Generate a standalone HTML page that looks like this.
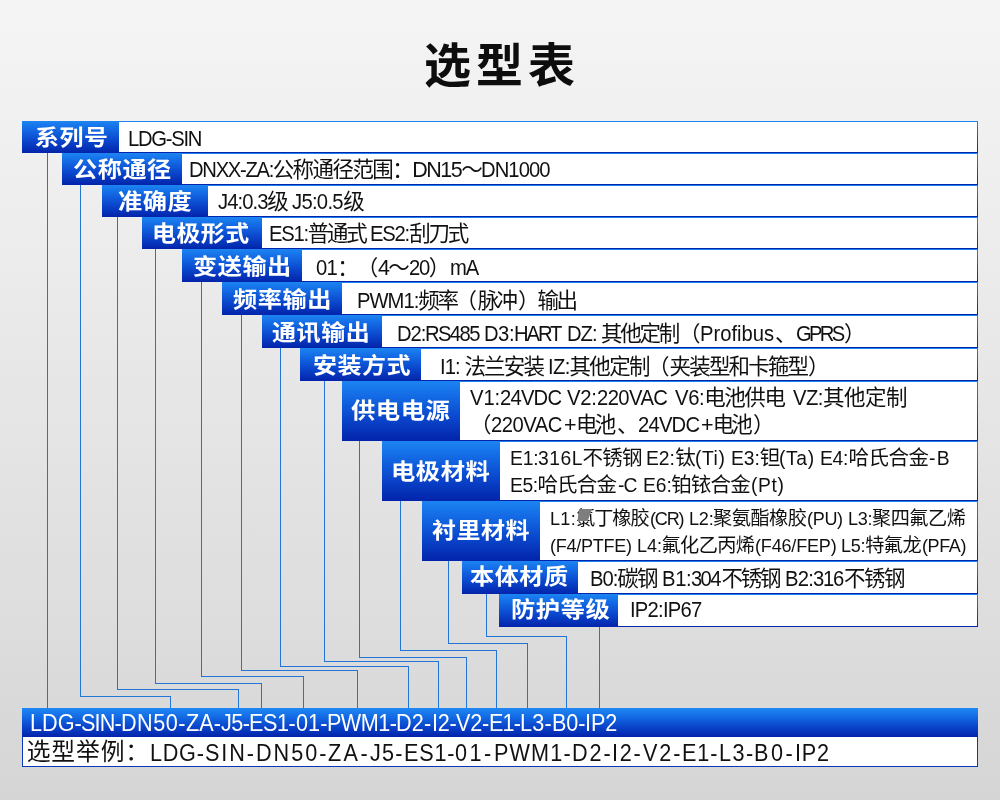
<!DOCTYPE html>
<html lang="zh-CN">
<head>
<meta charset="utf-8">
<title>选型表</title>
<style>
html,body{margin:0;padding:0;}
body{width:1000px;height:800px;overflow:hidden;position:relative;
 background:linear-gradient(180deg,#f4f4f4 0%,#eeeeee 25%,#e6e6e6 50%,#dedede 75%,#d5d5d5 100%);
 font-family:'Liberation Sans','Noto Sans CJK SC',sans-serif;color:#111;}
.title{position:absolute;left:424px;top:31px;white-space:nowrap;font-size:47px;line-height:70px;
 font-weight:700;letter-spacing:5px;color:#0d0d0d;will-change:transform;}
.row{position:absolute;right:22px;background:linear-gradient(180deg,#1c84f2 0%,#1266e2 30%,#0a46cc 62%,#0224aa 100%);}
.val{position:absolute;top:1px;right:1px;bottom:1px;background:#fff;}
.lab{position:absolute;color:#fff;font-weight:700;font-size:22px;line-height:30px;letter-spacing:0.5px;
 white-space:nowrap;transform-origin:0 50%;}
.t,.labs{will-change:transform;}
.t span{position:absolute;white-space:nowrap;line-height:30px;color:#111;transform-origin:0 0;}
.ln{position:absolute;background:#2375d5;}
.bar{position:absolute;left:22px;top:708px;width:956px;height:29px;
 background:linear-gradient(180deg,#1e88f4 0%,#1266e2 35%,#0a44ca 65%,#0224aa 100%);}
.ex{position:absolute;left:22px;top:737px;width:954px;height:29px;background:#fff;border:1px solid #0a38b8;border-top:none;}
.w span{color:#fff;}
.blob{position:absolute;left:577px;top:509px;width:15px;height:12px;background:#7e7e7e;clip-path:polygon(14% 0,100% 0,72% 100%,3% 100%);}
</style>
</head>
<body>
<div class="title">选型表</div>

<div class="ln" style="left:47px;top:153px;width:1px;height:555px"></div>
<div class="ln" style="left:80px;top:185px;width:1px;height:511px"></div>
<div class="ln" style="left:80px;top:696px;width:91px;height:1px"></div>
<div class="ln" style="left:170px;top:696px;width:1px;height:12px"></div>
<div class="ln" style="left:117px;top:217px;width:1px;height:472px"></div>
<div class="ln" style="left:117px;top:689px;width:122px;height:1px"></div>
<div class="ln" style="left:238px;top:689px;width:1px;height:19px"></div>
<div class="ln" style="left:155px;top:249px;width:1px;height:434px"></div>
<div class="ln" style="left:155px;top:683px;width:107px;height:1px"></div>
<div class="ln" style="left:261px;top:683px;width:1px;height:25px"></div>
<div class="ln" style="left:201px;top:282px;width:1px;height:394px"></div>
<div class="ln" style="left:201px;top:676px;width:103px;height:1px"></div>
<div class="ln" style="left:303px;top:676px;width:1px;height:32px"></div>
<div class="ln" style="left:241px;top:315px;width:1px;height:355px"></div>
<div class="ln" style="left:241px;top:670px;width:117px;height:1px"></div>
<div class="ln" style="left:357px;top:670px;width:1px;height:38px"></div>
<div class="ln" style="left:280px;top:348px;width:1px;height:318px"></div>
<div class="ln" style="left:280px;top:666px;width:129px;height:1px"></div>
<div class="ln" style="left:408px;top:666px;width:1px;height:42px"></div>
<div class="ln" style="left:324px;top:381px;width:1px;height:280px"></div>
<div class="ln" style="left:324px;top:661px;width:115px;height:1px"></div>
<div class="ln" style="left:438px;top:661px;width:1px;height:47px"></div>
<div class="ln" style="left:359px;top:441px;width:1px;height:216px"></div>
<div class="ln" style="left:359px;top:657px;width:108px;height:1px"></div>
<div class="ln" style="left:466px;top:657px;width:1px;height:51px"></div>
<div class="ln" style="left:400px;top:501px;width:1px;height:149px"></div>
<div class="ln" style="left:400px;top:650px;width:97px;height:1px"></div>
<div class="ln" style="left:496px;top:650px;width:1px;height:58px"></div>
<div class="ln" style="left:448px;top:561px;width:1px;height:82px"></div>
<div class="ln" style="left:448px;top:643px;width:80px;height:1px"></div>
<div class="ln" style="left:527px;top:643px;width:1px;height:65px"></div>
<div class="ln" style="left:486px;top:594px;width:1px;height:42px"></div>
<div class="ln" style="left:486px;top:636px;width:81px;height:1px"></div>
<div class="ln" style="left:566px;top:636px;width:1px;height:72px"></div>
<div class="ln" style="left:599px;top:627px;width:1px;height:81px"></div>

<div class="row" style="left:22px;top:121px;height:32px"><div class="val" style="left:97px"></div></div>
<div class="row" style="left:62px;top:153px;height:32px"><div class="val" style="left:120px"></div></div>
<div class="row" style="left:102px;top:185px;height:32px"><div class="val" style="left:106px"></div></div>
<div class="row" style="left:142px;top:217px;height:32px"><div class="val" style="left:120px"></div></div>
<div class="row" style="left:182px;top:249px;height:33px"><div class="val" style="left:120px"></div></div>
<div class="row" style="left:222px;top:282px;height:33px"><div class="val" style="left:120px"></div></div>
<div class="row" style="left:262px;top:315px;height:33px"><div class="val" style="left:120px"></div></div>
<div class="row" style="left:300px;top:348px;height:33px"><div class="val" style="left:121px"></div></div>
<div class="row" style="left:342px;top:381px;height:60px"><div class="val" style="left:118px"></div></div>
<div class="row" style="left:382px;top:441px;height:60px"><div class="val" style="left:118px"></div></div>
<div class="row" style="left:422px;top:501px;height:60px"><div class="val" style="left:118px"></div></div>
<div class="row" style="left:462px;top:561px;height:33px"><div class="val" style="left:116px"></div></div>
<div class="row" style="left:499px;top:594px;height:33px"><div class="val" style="left:119px"></div></div>
<div class="bar"></div>
<div class="ex"></div>
<div class="labs">
<div class="lab" style="left:34.53px;top:122.5px;transform:scaleX(1.0867)">系列号</div>
<div class="lab" style="left:72.67px;top:154.5px;transform:scaleX(1.0978)">公称通径</div>
<div class="lab" style="left:118.49px;top:186.5px;transform:scaleX(1.1011)">准确度</div>
<div class="lab" style="left:152.33px;top:218.5px;transform:scaleX(1.0851)">电极形式</div>
<div class="lab" style="left:192.67px;top:252.0px;transform:scaleX(1.0979)">变送输出</div>
<div class="lab" style="left:232.53px;top:285.0px;transform:scaleX(1.0995)">频率输出</div>
<div class="lab" style="left:272.46px;top:318.0px;transform:scaleX(1.0917)">通讯输出</div>
<div class="lab" style="left:312.66px;top:351.0px;transform:scaleX(1.0898)">安装方式</div>
<div class="lab" style="left:351.18px;top:395.9px;transform:scaleX(1.1053)">供电电源</div>
<div class="lab" style="left:390.89px;top:456.5px;transform:scaleX(1.1033)">电极材料</div>
<div class="lab" style="left:431.53px;top:516.0px;transform:scaleX(1.0894)">衬里材料</div>
<div class="lab" style="left:469.62px;top:562.0px;transform:scaleX(1.0948)">本体材质</div>
<div class="lab" style="left:510.75px;top:594.7px;transform:scaleX(1.1043)">防护等级</div>
</div>
<div class="t">
<span style="left:127.54px;top:124.00px;font-size:21.5px;letter-spacing:-1.34px;transform:scaleX(0.9400)">LDG-SIN</span>
<span style="left:188.54px;top:155.00px;font-size:21.5px;letter-spacing:-1.36px;transform:scaleX(0.9400)">DNXX-ZA:</span>
<span style="left:272.66px;top:155.00px;font-size:21.5px;letter-spacing:-1.56px">公称通径范围：</span>
<span style="left:412.24px;top:155.00px;font-size:21.5px;letter-spacing:-1.51px">DN15～</span>
<span style="left:481.14px;top:155.00px;font-size:21.5px;letter-spacing:-0.97px;transform:scaleX(0.9400)">DN1000</span>
<span style="left:217.52px;top:187.30px;font-size:21.5px;letter-spacing:-0.96px;transform:scaleX(0.9400)">J4:0.3</span>
<span style="left:267.19px;top:187.30px;font-size:21.5px;letter-spacing:-1.17px">级</span>
<span style="left:292.32px;top:187.30px;font-size:21.5px;letter-spacing:-0.74px;transform:scaleX(0.9400)">J5:0.5</span>
<span style="left:343.19px;top:187.30px;font-size:21.5px;letter-spacing:0.00px">级</span>
<span style="left:268.84px;top:218.80px;font-size:21.5px;letter-spacing:-1.29px;transform:scaleX(0.9400)">ES1:</span>
<span style="left:307.80px;top:218.80px;font-size:21.5px;letter-spacing:-2.30px">普通式</span>
<span style="left:370.34px;top:218.80px;font-size:21.5px;letter-spacing:-1.33px;transform:scaleX(0.9400)">ES2:</span>
<span style="left:409.17px;top:218.80px;font-size:21.5px;letter-spacing:-2.19px">刮刀式</span>
<span style="left:316.38px;top:253.00px;font-size:21.5px;letter-spacing:-0.87px;transform:scaleX(0.9400)">01</span>
<span style="left:337.22px;top:253.00px;font-size:21.5px;letter-spacing:-2.00px">：</span>
<span style="left:356.73px;top:253.00px;font-size:21.5px;letter-spacing:-0.34px">（</span>
<span style="left:377.89px;top:253.00px;font-size:21.5px;letter-spacing:-1.64px">4</span>
<span style="left:388.20px;top:253.00px;font-size:21.5px;letter-spacing:-1.14px">～</span>
<span style="left:408.56px;top:253.00px;font-size:21.5px;letter-spacing:-1.24px;transform:scaleX(0.9400)">20</span>
<span style="left:428.70px;top:253.00px;font-size:21.5px;letter-spacing:0.16px">）</span>
<span style="left:450.36px;top:253.00px;font-size:21.5px;letter-spacing:-1.10px;transform:scaleX(0.9400)">mA</span>
<span style="left:356.84px;top:285.70px;font-size:21.5px;letter-spacing:-1.05px;transform:scaleX(0.9400)">PWM1:</span>
<span style="left:418.17px;top:285.70px;font-size:21.5px;letter-spacing:-2.17px">频率</span>
<span style="left:455.43px;top:285.70px;font-size:21.5px;letter-spacing:0.81px">（</span>
<span style="left:477.74px;top:285.70px;font-size:21.5px;letter-spacing:-2.74px">脉冲</span>
<span style="left:518.00px;top:285.70px;font-size:21.5px;letter-spacing:-2.08px">）</span>
<span style="left:537.42px;top:285.70px;font-size:21.5px;letter-spacing:-2.42px">输出</span>
<span style="left:396.94px;top:318.50px;font-size:21.5px;letter-spacing:-1.08px;transform:scaleX(0.9400)">D2:</span>
<span style="left:425.34px;top:318.50px;font-size:21.5px;letter-spacing:-1.71px;transform:scaleX(0.9400)">RS485</span>
<span style="left:484.34px;top:318.50px;font-size:21.5px;letter-spacing:-0.51px;transform:scaleX(0.9400)">D3:</span>
<span style="left:514.34px;top:318.50px;font-size:21.5px;letter-spacing:-2.22px;transform:scaleX(0.9400)">HART</span>
<span style="left:566.94px;top:318.50px;font-size:21.5px;letter-spacing:-1.09px;transform:scaleX(0.9400)">DZ:</span>
<span style="left:601.00px;top:318.50px;font-size:21.5px;letter-spacing:-2.28px">其他定制</span>
<span style="left:679.03px;top:318.50px;font-size:21.5px;letter-spacing:-0.19px">（</span>
<span style="left:700.34px;top:318.50px;font-size:21.5px;letter-spacing:-0.01px;transform:scaleX(0.9400)">Profibus</span>
<span style="left:775.00px;top:318.50px;font-size:21.5px;letter-spacing:-0.84px">、</span>
<span style="left:795.66px;top:318.50px;font-size:21.5px;letter-spacing:-2.86px;transform:scaleX(0.9400)">GPRS</span>
<span style="left:844.00px;top:318.50px;font-size:21.5px;letter-spacing:0.00px">）</span>
<span style="left:440.12px;top:351.90px;font-size:21.5px;letter-spacing:-1.01px;transform:scaleX(0.9400)">I1:</span>
<span style="left:464.40px;top:351.90px;font-size:21.5px;letter-spacing:-1.81px">法兰安装</span>
<span style="left:547.52px;top:351.90px;font-size:21.5px;letter-spacing:-0.60px;transform:scaleX(0.9400)">IZ:</span>
<span style="left:569.40px;top:351.90px;font-size:21.5px;letter-spacing:-1.61px">其他定制</span>
<span style="left:648.03px;top:351.90px;font-size:21.5px;letter-spacing:0.07px">（</span>
<span style="left:669.60px;top:351.90px;font-size:21.5px;letter-spacing:-1.84px">夹装型和卡箍型</span>
<span style="left:808.00px;top:351.90px;font-size:21.5px;letter-spacing:0.00px">）</span>
<span style="left:470.00px;top:383.20px;font-size:21.5px;letter-spacing:-0.10px;transform:scaleX(0.9400)">V1:</span>
<span style="left:500.06px;top:383.20px;font-size:21.5px;letter-spacing:-0.83px;transform:scaleX(0.9400)">24VDC</span>
<span style="left:567.40px;top:383.20px;font-size:21.5px;letter-spacing:-0.24px;transform:scaleX(0.9400)">V2:</span>
<span style="left:597.06px;top:383.20px;font-size:21.5px;letter-spacing:-0.60px;transform:scaleX(0.9400)">220VAC</span>
<span style="left:675.00px;top:383.20px;font-size:21.5px;letter-spacing:-0.37px;transform:scaleX(0.9400)">V6:</span>
<span style="left:704.29px;top:383.20px;font-size:21.5px;letter-spacing:-1.46px">电池供电</span>
<span style="left:793.00px;top:383.20px;font-size:21.5px;letter-spacing:-0.51px;transform:scaleX(0.9400)">VZ:</span>
<span style="left:823.00px;top:383.20px;font-size:21.5px;letter-spacing:-0.48px">其他定制</span>
<span style="left:470.03px;top:410.00px;font-size:21.5px;letter-spacing:-0.47px">（</span>
<span style="left:491.06px;top:410.00px;font-size:21.5px;letter-spacing:-0.51px;transform:scaleX(0.9400)">220VAC</span>
<span style="left:564.00px;top:410.00px;font-size:21.5px;letter-spacing:-0.66px">+</span>
<span style="left:575.89px;top:410.00px;font-size:21.5px;letter-spacing:-2.62px">电池</span>
<span style="left:617.00px;top:410.00px;font-size:21.5px;letter-spacing:-0.44px">、</span>
<span style="left:638.06px;top:410.00px;font-size:21.5px;letter-spacing:-0.83px;transform:scaleX(0.9400)">24VDC</span>
<span style="left:701.00px;top:410.00px;font-size:21.5px;letter-spacing:-0.86px">+</span>
<span style="left:712.69px;top:410.00px;font-size:21.5px;letter-spacing:-2.82px">电池</span>
<span style="left:753.00px;top:410.00px;font-size:21.5px;letter-spacing:0.00px">）</span>
<span style="left:509.81px;top:443.00px;font-size:20.5px;letter-spacing:-0.22px;transform:scaleX(0.9400)">E1:</span>
<span style="left:538.12px;top:443.00px;font-size:20.5px;letter-spacing:0.56px;transform:scaleX(0.9400)">316L</span>
<span style="left:582.40px;top:443.00px;font-size:20.5px;letter-spacing:-0.71px">不锈钢</span>
<span style="left:646.41px;top:443.00px;font-size:20.5px;letter-spacing:-0.06px;transform:scaleX(0.9400)">E2:</span>
<span style="left:675.15px;top:443.00px;font-size:20.5px;letter-spacing:-0.59px">钛</span>
<span style="left:695.06px;top:443.00px;font-size:20.5px;letter-spacing:0.60px;transform:scaleX(0.9400)">(Ti)</span>
<span style="left:731.01px;top:443.00px;font-size:20.5px;letter-spacing:-0.07px;transform:scaleX(0.9400)">E3:</span>
<span style="left:759.74px;top:443.00px;font-size:20.5px;letter-spacing:-1.18px">钽</span>
<span style="left:779.06px;top:443.00px;font-size:20.5px;letter-spacing:0.69px;transform:scaleX(0.9400)">(Ta)</span>
<span style="left:820.41px;top:443.00px;font-size:20.5px;letter-spacing:-0.31px;transform:scaleX(0.9400)">E4:</span>
<span style="left:848.47px;top:443.00px;font-size:20.5px;letter-spacing:-0.52px">哈氏合金</span>
<span style="left:928.54px;top:443.00px;font-size:20.5px;letter-spacing:1.45px;transform:scaleX(0.9400)">-B</span>
<span style="left:509.81px;top:470.00px;font-size:20.5px;letter-spacing:-0.45px;transform:scaleX(0.9400)">E5:</span>
<span style="left:537.47px;top:470.00px;font-size:20.5px;letter-spacing:-0.85px">哈氏合金</span>
<span style="left:617.74px;top:470.00px;font-size:20.5px;letter-spacing:-1.05px;transform:scaleX(0.9400)">-C</span>
<span style="left:642.61px;top:470.00px;font-size:20.5px;letter-spacing:-0.06px;transform:scaleX(0.9400)">E6:</span>
<span style="left:671.35px;top:470.00px;font-size:20.5px;letter-spacing:-0.88px">铂铱合金</span>
<span style="left:751.06px;top:470.00px;font-size:20.5px;letter-spacing:0.66px;transform:scaleX(0.9400)">(Pt)</span>
<span style="left:549.91px;top:503.80px;font-size:19.2px;letter-spacing:0.36px;transform:scaleX(0.9400)">L1:</span>
<span style="left:576.00px;top:503.80px;font-size:19.2px;letter-spacing:-1.00px">氯丁橡胶</span>
<span style="left:649.66px;top:503.80px;font-size:19.2px;letter-spacing:-1.24px;transform:scaleX(0.9400)">(CR)</span>
<span style="left:688.51px;top:503.80px;font-size:19.2px;letter-spacing:-0.17px;transform:scaleX(0.9400)">L2:</span>
<span style="left:713.10px;top:503.80px;font-size:19.2px;letter-spacing:-0.53px">聚氨酯橡胶</span>
<span style="left:807.06px;top:503.80px;font-size:19.2px;letter-spacing:-0.34px;transform:scaleX(0.9400)">(PU)</span>
<span style="left:847.91px;top:503.80px;font-size:19.2px;letter-spacing:-0.31px;transform:scaleX(0.9400)">L3:</span>
<span style="left:872.10px;top:503.80px;font-size:19.2px;letter-spacing:-0.55px">聚四氟乙烯</span>
<span style="left:550.06px;top:531.00px;font-size:19.2px;letter-spacing:-0.29px;transform:scaleX(0.9400)">(F4/PTFE)</span>
<span style="left:636.51px;top:531.00px;font-size:19.2px;letter-spacing:0.01px;transform:scaleX(0.9400)">L4:</span>
<span style="left:661.60px;top:531.00px;font-size:19.2px;letter-spacing:-0.67px">氟化乙丙烯</span>
<span style="left:755.06px;top:531.00px;font-size:19.2px;letter-spacing:-0.20px;transform:scaleX(0.9400)">(F46/FEP)</span>
<span style="left:841.01px;top:531.00px;font-size:19.2px;letter-spacing:-0.33px;transform:scaleX(0.9400)">L5:</span>
<span style="left:865.15px;top:531.00px;font-size:19.2px;letter-spacing:-0.57px">特氟龙</span>
<span style="left:922.06px;top:531.00px;font-size:19.2px;letter-spacing:-0.42px;transform:scaleX(0.9400)">(PFA)</span>
<span style="left:589.74px;top:563.80px;font-size:21.5px;letter-spacing:-1.04px;transform:scaleX(0.9400)">B0:</span>
<span style="left:617.14px;top:563.80px;font-size:21.5px;letter-spacing:-1.57px">碳钢</span>
<span style="left:661.74px;top:563.80px;font-size:21.5px;letter-spacing:-0.35px;transform:scaleX(0.9400)">B1:</span>
<span style="left:691.09px;top:563.80px;font-size:21.5px;letter-spacing:-1.75px;transform:scaleX(0.9400)">304</span>
<span style="left:721.60px;top:563.80px;font-size:21.5px;letter-spacing:-2.30px">不锈钢</span>
<span style="left:784.94px;top:563.80px;font-size:21.5px;letter-spacing:-0.77px;transform:scaleX(0.9400)">B2:</span>
<span style="left:813.09px;top:563.80px;font-size:21.5px;letter-spacing:-1.38px;transform:scaleX(0.9400)">316</span>
<span style="left:844.00px;top:563.80px;font-size:21.5px;letter-spacing:-1.50px">不锈钢</span>
<span style="left:630.12px;top:595.00px;font-size:21.5px;letter-spacing:-0.79px;transform:scaleX(0.9400)">IP2:IP67</span>
</div>
<div class="blob"></div>
<div class="t w">
<span style="left:29.62px;top:707.60px;font-size:23px;letter-spacing:-0.00px;transform:scaleX(0.9400)">LDG-</span>
<span style="left:81.26px;top:707.60px;font-size:23px;letter-spacing:-0.90px;transform:scaleX(0.9400)">SIN-</span>
<span style="left:121.12px;top:707.60px;font-size:23px;letter-spacing:0.51px;transform:scaleX(0.9400)">DN50-</span>
<span style="left:186.01px;top:707.60px;font-size:23px;letter-spacing:0.05px;transform:scaleX(0.9400)">ZA-</span>
<span style="left:220.98px;top:707.60px;font-size:23px;letter-spacing:-0.64px;transform:scaleX(0.9400)">J5-</span>
<span style="left:249.22px;top:707.60px;font-size:23px;letter-spacing:-0.47px;transform:scaleX(0.9400)">ES1-</span>
<span style="left:295.53px;top:707.60px;font-size:23px;letter-spacing:0.05px;transform:scaleX(0.9400)">01-</span>
<span style="left:326.92px;top:707.60px;font-size:23px;letter-spacing:-0.59px;transform:scaleX(0.9400)">PWM1-</span>
<span style="left:396.22px;top:707.60px;font-size:23px;letter-spacing:0.16px;transform:scaleX(0.9400)">D2-</span>
<span style="left:431.52px;top:707.60px;font-size:23px;letter-spacing:-0.34px;transform:scaleX(0.9400)">I2-</span>
<span style="left:455.80px;top:707.60px;font-size:23px;letter-spacing:-0.26px;transform:scaleX(0.9400)">V2-</span>
<span style="left:488.72px;top:707.60px;font-size:23px;letter-spacing:-0.87px;transform:scaleX(0.9400)">E1-</span>
<span style="left:519.92px;top:707.60px;font-size:23px;letter-spacing:0.23px;transform:scaleX(0.9400)">L3-</span>
<span style="left:551.82px;top:707.60px;font-size:23px;letter-spacing:-0.05px;transform:scaleX(0.9400)">B0-</span>
<span style="left:585.32px;top:707.60px;font-size:23px;letter-spacing:-0.05px;transform:scaleX(0.9400)">IP2</span>
</div>
<div class="t">
<span style="left:26.70px;top:737.00px;font-size:23.8px;letter-spacing:0.87px">选型举例：</span>
<span style="left:150.02px;top:737.80px;font-size:23px;letter-spacing:0.79px;transform:scaleX(0.9400)">LDG-</span>
<span style="left:204.66px;top:737.80px;font-size:23px;letter-spacing:2.03px;transform:scaleX(0.9400)">SIN-</span>
<span style="left:255.52px;top:737.80px;font-size:23px;letter-spacing:2.13px;transform:scaleX(0.9400)">DN50-</span>
<span style="left:328.01px;top:737.80px;font-size:23px;letter-spacing:2.57px;transform:scaleX(0.9400)">ZA-</span>
<span style="left:370.08px;top:737.80px;font-size:23px;letter-spacing:1.32px;transform:scaleX(0.9400)">J5-</span>
<span style="left:403.82px;top:737.80px;font-size:23px;letter-spacing:0.86px;transform:scaleX(0.9400)">ES1-</span>
<span style="left:455.13px;top:737.80px;font-size:23px;letter-spacing:2.61px;transform:scaleX(0.9400)">01-</span>
<span style="left:493.72px;top:737.80px;font-size:23px;letter-spacing:1.22px;transform:scaleX(0.9400)">PWM1-</span>
<span style="left:571.52px;top:737.80px;font-size:23px;letter-spacing:2.04px;transform:scaleX(0.9400)">D2-</span>
<span style="left:612.12px;top:737.80px;font-size:23px;letter-spacing:1.86px;transform:scaleX(0.9400)">I2-</span>
<span style="left:642.60px;top:737.80px;font-size:23px;letter-spacing:2.05px;transform:scaleX(0.9400)">V2-</span>
<span style="left:682.02px;top:737.80px;font-size:23px;letter-spacing:1.01px;transform:scaleX(0.9400)">E1-</span>
<span style="left:718.52px;top:737.80px;font-size:23px;letter-spacing:1.58px;transform:scaleX(0.9400)">L3-</span>
<span style="left:754.22px;top:737.80px;font-size:23px;letter-spacing:2.64px;transform:scaleX(0.9400)">B0-</span>
<span style="left:795.32px;top:737.80px;font-size:23px;letter-spacing:0.80px;transform:scaleX(0.9400)">IP2</span>
</div>
</body>
</html>
